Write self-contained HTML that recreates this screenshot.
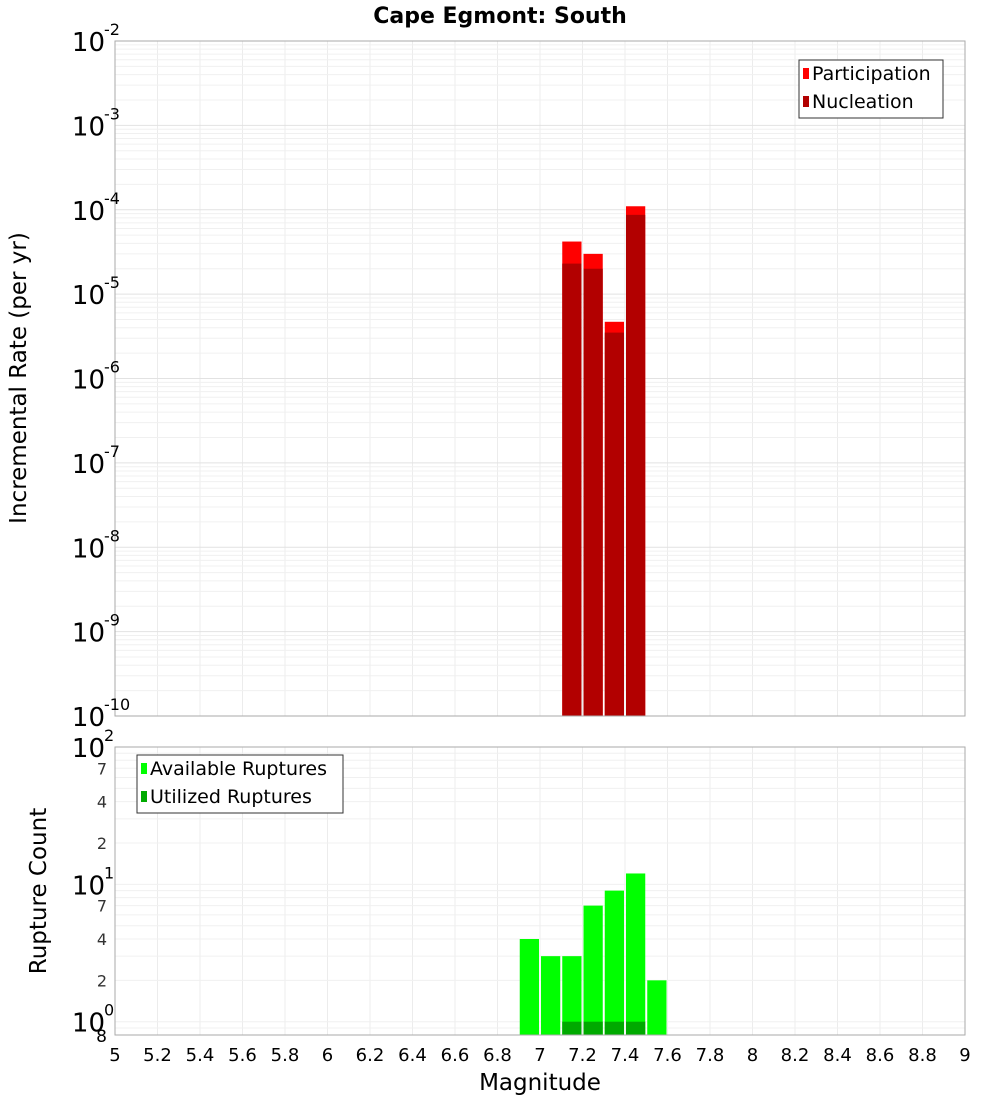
<!DOCTYPE html>
<html><head><meta charset="utf-8">
<style>
body{margin:0;background:#fff;font-family:"Liberation Sans","DejaVu Sans",sans-serif;}
svg text{font-family:"DejaVu Sans","Liberation Sans",sans-serif;}
</style></head>
<body>
<svg id="chart" width="1000" height="1100" xmlns="http://www.w3.org/2000/svg">
<text x="500" y="23" text-anchor="middle" font-size="22" font-weight="bold">Cape Egmont: South</text>
<text transform="translate(26,378) rotate(-90)" text-anchor="middle" font-size="23">Incremental Rate (per yr)</text>
<text transform="translate(46,891) rotate(-90)" text-anchor="middle" font-size="23">Rupture Count</text>
<text x="540" y="1090" text-anchor="middle" font-size="23">Magnitude</text>
<g id="grid"></g><g id="bars"></g><g id="axes"></g>
</svg>
<script>
const rateBins=[7.15,7.25,7.35,7.45];
const participation=[4.2e-5,3.0e-5,4.7e-6,1.1e-4];
const nucleation=[2.3e-5,2.0e-5,3.5e-6,8.7e-5];
const countBins=[6.95,7.05,7.15,7.25,7.35,7.45,7.55];
const available=[4,3,3,7,9,12,2];
const utilizedBins=[7.15,7.25,7.35,7.45];
const utilized=[1,1,1,1];
const xTicks=[5,5.2,5.4,5.6,5.8,6,6.2,6.4,6.6,6.8,7,7.2,7.4,7.6,7.8,8,8.2,8.4,8.6,8.8,9];
const topDecades=[-10,-9,-8,-7,-6,-5,-4,-3,-2];
const botTickVals=[1,2,4,7,10,20,40,70,100];

const NS="http://www.w3.org/2000/svg";
const L=115,R=965;
const T1=41,B1=716,T2=747,B2=1035;
const xs=m=>L+(m-5)/4*(R-L);
const y1=v=>T1+(-2-Math.log10(v))/8*(B1-T1);
const bMin=Math.log10(0.8),bMax=2;
const y2=v=>T2+(bMax-Math.log10(v))/(bMax-bMin)*(B2-T2);
function mk(parent,tag,attrs,txt){const e=document.createElementNS(NS,tag);for(const k in attrs)e.setAttribute(k,attrs[k]);if(txt!==undefined)e.textContent=txt;document.getElementById(parent).appendChild(e);return e;}
for(const t of xTicks){for(const [a,b] of [[T1,B1],[T2,B2]]){const e=mk('grid','line',{x1:xs(t),x2:xs(t),y1:a,y2:b,stroke:'#ececec','stroke-width':1});

}}
for(let d=-10;d<-2;d++)for(let k=1;k<10;k++){const y=y1(k*Math.pow(10,d));const e=mk('grid','line',{x1:L,x2:R,y1:y,y2:y,stroke:k==1?'#e2e2e2':'#f0f0f0','stroke-width':1});

}
for(const v of [0.8,0.9,1,2,3,4,5,6,7,8,9,10,20,30,40,50,60,70,80,90]){const y=y2(v);const e=mk('grid','line',{x1:L,x2:R,y1:y,y2:y,stroke:'#f0f0f0','stroke-width':1});

}
const w=0.1;
rateBins.forEach((m,i)=>{
 const p=mk('bars','rect',{x:xs(m-w/2)+1,width:xs(m+w/2)-xs(m-w/2)-2,y:y1(participation[i]),height:B1-y1(participation[i]),fill:'#ff0000'});
 
 
 const n=mk('bars','rect',{x:xs(m-w/2)+1,width:xs(m+w/2)-xs(m-w/2)-2,y:y1(nucleation[i]),height:B1-y1(nucleation[i]),fill:'#b20000'});
 
 
});
countBins.forEach((m,i)=>{
 const a=mk('bars','rect',{x:xs(m-w/2)+1,width:xs(m+w/2)-xs(m-w/2)-2,y:y2(available[i]),height:B2-y2(available[i]),fill:'#00ff00'});
 
 
});
utilizedBins.forEach((m,i)=>{
 const u=mk('bars','rect',{x:xs(m-w/2)+1,width:xs(m+w/2)-xs(m-w/2)-2,y:y2(utilized[i]),height:B2-y2(utilized[i]),fill:'#00aa00'});
 
 
});
for(const [a,b] of [[T1,B1],[T2,B2]]){const f=mk('axes','rect',{x:L,y:a,width:R-L,height:b-a,fill:'none',stroke:'#aaa','stroke-width':1});

}
for(const t of xTicks){const e=mk('axes','text',{x:xs(t),y:1061,'text-anchor':'middle','font-size':18},String(t));

}
for(const d of topDecades){const y=y1(Math.pow(10,d));const e=mk('axes','text',{x:105,y:y+10,'text-anchor':'end','font-size':26},'10');


const s=mk('axes','text',{x:104,y:y-6,'text-anchor':'start','font-size':16},String(d));

}
for(const v of botTickVals){const y=y2(v);let e;
 if(v==1||v==10||v==100){e=mk('axes','text',{x:105,y:y+10,'text-anchor':'end','font-size':26},'10');
  const s=mk('axes','text',{x:104,y:y-6,'text-anchor':'start','font-size':16},String(Math.log10(v)));
  
  }
 else{e=mk('axes','text',{x:107,y:y+6,'text-anchor':'end','font-size':16,fill:'#333'},String(v<10?v:v/10));}
 
 }
const e8=mk('axes','text',{x:107,y:1042,'text-anchor':'end','font-size':17},'8');


function legend(x,y,w,items,name){const g=mk('axes','rect',{x:x,y:y,width:w,height:58,fill:'#fff',stroke:'#333','stroke-width':1});
 
 
 items.forEach((it,i)=>{const sw=mk('axes','rect',{x:x+4,y:y+8+i*28,width:6,height:11,fill:it[1]});
  
  
  const t=mk('axes','text',{x:x+13,y:y+20+i*28,'font-size':19},it[0]);
  
  });}
legend(799,60,144,[['Participation','#ff0000'],['Nucleation','#b20000']],'legend-top');
legend(137,755,206,[['Available Ruptures','#00ff00'],['Utilized Ruptures','#00aa00']],'legend-bottom');
</script>
</body></html>
